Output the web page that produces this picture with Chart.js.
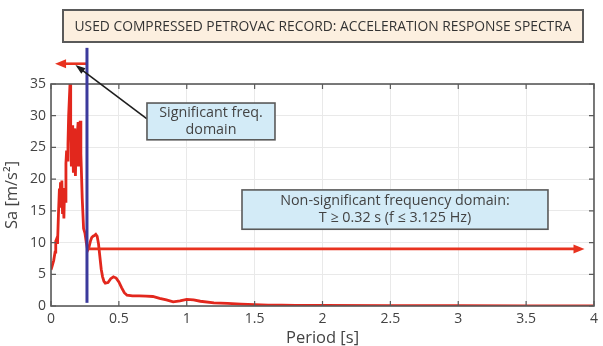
<!DOCTYPE html>
<html>
<head>
<meta charset="utf-8">
<script src="https://cdn.jsdelivr.net/npm/chart.js@4/dist/chart.umd.min.js"></script>
<style>
  html, body { margin: 0; padding: 0; background: #ffffff; }
  #wrap { width: 603px; height: 346px; }
</style>
</head>
<body>
<div id="wrap"><canvas id="spectra" width="603" height="346"></canvas></div>
<script>
// Acceleration response spectrum of the compressed Petrovac record
const periods = [
  0, 0.01, 0.02, 0.03, 0.035, 0.042, 0.048, 0.055, 0.062, 0.066,
  0.07, 0.075, 0.08, 0.085, 0.09, 0.095, 0.1, 0.105, 0.11, 0.115,
  0.12, 0.125, 0.13, 0.135, 0.14, 0.145, 0.15, 0.155, 0.16, 0.165,
  0.17, 0.175, 0.18, 0.185, 0.19, 0.195, 0.2, 0.205, 0.21, 0.215,
  0.22, 0.23, 0.24, 0.25, 0.26, 0.27, 0.28, 0.29, 0.3, 0.31,
  0.32, 0.33, 0.34, 0.35, 0.36, 0.37, 0.38, 0.39, 0.4, 0.42,
  0.44, 0.46, 0.48, 0.5, 0.52, 0.54, 0.56, 0.6, 0.65, 0.7,
  0.75, 0.8, 0.85, 0.9, 0.95, 1.0, 1.05, 1.1, 1.2, 1.3,
  1.4, 1.5, 1.6, 1.7, 1.8, 2.0, 2.5, 3.0, 3.5, 4.0
];
const spectralAcc = [
  5.7, 6.4, 7.2, 8.5, 10.2, 10.6, 9.8, 14.5, 18.5, 15.5,
  19.5, 16.8, 19.8, 14.5, 17.8, 13.8, 18.6, 16.5, 22.5, 24.5,
  23.0, 25.5, 30.0, 32.5, 35.0, 28.0, 22.0, 28.5, 25.0, 21.0,
  28.0, 23.0, 20.5, 25.5, 22.0, 27.5, 29.0, 25.0, 22.0, 29.2,
  24.0, 17.0, 12.2, 11.5, 10.0, 8.8, 9.3, 10.2, 10.8, 11.0,
  11.1, 11.3, 11.0, 9.8, 7.8, 5.8, 4.6, 3.9, 3.6, 3.7,
  4.3, 4.6, 4.4, 3.8, 2.9, 2.1, 1.7, 1.6, 1.6, 1.55,
  1.5, 1.2, 0.95, 0.65, 0.8, 1.05, 0.95, 0.75, 0.5, 0.4,
  0.3, 0.22, 0.15, 0.12, 0.1, 0.08, 0.05, 0.04, 0.03, 0.03
];
const xTickValues = [0, 0.5, 1, 1.5, 2, 2.5, 3, 3.5, 4];
const yTickValues = [0, 5, 10, 15, 20, 25, 30, 35];

const titleText = "USED COMPRESSED PETROVAC RECORD: ACCELERATION RESPONSE SPECTRA";
const cutoffPeriod = 0.265;
const significantNote = ["Significant freq.", "domain"];
const nonSignificantNote = ["Non-significant frequency domain:", "T \u2265 0.32 s (f \u2264 3.125 Hz)"];

const FONT = "'Open Sans', 'Noto Sans', sans-serif";
const TEXT = "#434343";
const FRAME = "#5a5a5a";

function arrowHead(ctx, x1, y1, x2, y2, len, half, color) {
  const a = Math.atan2(y2 - y1, x2 - x1);
  ctx.save();
  ctx.fillStyle = color;
  ctx.beginPath();
  ctx.moveTo(x2, y2);
  ctx.lineTo(x2 - len * Math.cos(a) + half * Math.sin(a), y2 - len * Math.sin(a) - half * Math.cos(a));
  ctx.lineTo(x2 - len * Math.cos(a) - half * Math.sin(a), y2 - len * Math.sin(a) + half * Math.cos(a));
  ctx.closePath();
  ctx.fill();
  ctx.restore();
}

function arrow(ctx, x1, y1, x2, y2, color, width, len, half) {
  const a = Math.atan2(y2 - y1, x2 - x1);
  ctx.save();
  ctx.strokeStyle = color;
  ctx.lineWidth = width;
  ctx.beginPath();
  ctx.moveTo(x1, y1);
  ctx.lineTo(x2 - len * 0.8 * Math.cos(a), y2 - len * 0.8 * Math.sin(a));
  ctx.stroke();
  ctx.restore();
  arrowHead(ctx, x1, y1, x2, y2, len, half, color);
}

function noteBox(ctx, x1, y1, x2, y2, lines, fill, size) {
  ctx.save();
  ctx.fillStyle = fill;
  ctx.fillRect(x1, y1, x2 - x1, y2 - y1);
  ctx.strokeStyle = FRAME;
  ctx.lineWidth = 1.6;
  ctx.strokeRect(x1, y1, x2 - x1, y2 - y1);
  ctx.fillStyle = TEXT;
  ctx.font = size + "px " + FONT;
  ctx.textAlign = "center";
  ctx.textBaseline = "middle";
  const cx = (x1 + x2) / 2, cy = (y1 + y2) / 2;
  const lh = size * 1.2;
  lines.forEach((t, i) => {
    ctx.fillText(t, cx, cy + (i - (lines.length - 1) / 2) * lh);
  });
  ctx.restore();
}

const overlay = {
  id: "overlay",
  afterDatasetsDraw(chart) {
    const ctx = chart.ctx;
    const xs = chart.scales.x, ys = chart.scales.y;
    const area = chart.chartArea;
    const px = v => xs.getPixelForValue(v);
    const py = v => ys.getPixelForValue(v);

    // frame with inward ticks on all four sides
    ctx.save();
    ctx.strokeStyle = FRAME;
    ctx.lineWidth = 1.6;
    ctx.strokeRect(area.left, area.top, area.right - area.left, area.bottom - area.top);
    ctx.lineWidth = 1.2;
    ctx.beginPath();
    xTickValues.forEach(v => {
      const x = px(v);
      ctx.moveTo(x, area.bottom); ctx.lineTo(x, area.bottom - 5);
      ctx.moveTo(x, area.top); ctx.lineTo(x, area.top + 5);
    });
    yTickValues.forEach(v => {
      const y = py(v);
      ctx.moveTo(area.left, y); ctx.lineTo(area.left + 5, y);
      ctx.moveTo(area.right, y); ctx.lineTo(area.right - 5, y);
    });
    ctx.stroke();
    ctx.restore();

    // horizontal arrow over the non-significant range
    arrow(ctx, px(0.27), py(9.0), px(3.93), py(9.0), "#e8321f", 2.6, 11, 4.5);

    // arrow pointing toward the significant range
    arrow(ctx, px(cutoffPeriod), py(38.2), px(0.03), py(38.2), "#e8321f", 2.6, 11, 4.5);

    // cutoff period marker
    ctx.save();
    ctx.strokeStyle = "#3b3a9c";
    ctx.lineWidth = 3;
    ctx.beginPath();
    ctx.moveTo(px(cutoffPeriod), py(40.7));
    ctx.lineTo(px(cutoffPeriod), py(0.5));
    ctx.stroke();
    ctx.restore();

    // leader from the note to the arrow
    arrow(ctx, px(0.707), py(29.5), px(0.18), py(38.0), "#1e1e1e", 1.6, 10, 3.5);

    noteBox(ctx, px(0.707), py(32.0), px(1.65), py(26.2), significantNote, "#d3ebf7", 14.3);
    noteBox(ctx, px(1.407), py(18.3), px(3.661), py(12.1), nonSignificantNote, "#d3ebf7", 14.3);

    // heading box
    ctx.save();
    ctx.fillStyle = "#fcefdf";
    ctx.fillRect(63, 10, 520, 32);
    ctx.strokeStyle = FRAME;
    ctx.lineWidth = 2;
    ctx.strokeRect(63, 10, 520, 32);
    ctx.fillStyle = "#333333";
    const size = 15;
    ctx.font = size + "px " + FONT;
    const w = ctx.measureText(titleText).width;
    ctx.textAlign = "center";
    ctx.textBaseline = "middle";
    ctx.save();
    ctx.translate(323, 26.5);
    ctx.scale(497 / w, 1);
    ctx.fillText(titleText, 0, 0);
    ctx.restore();
    ctx.restore();
  }
};

new Chart(document.getElementById("spectra"), {
  type: "line",
  data: {
    datasets: [{
      data: periods.map((t, i) => ({ x: t, y: spectralAcc[i] })),
      borderColor: "#e2271d",
      borderWidth: 2.8,
      pointRadius: 0,
      tension: 0,
      fill: false
    }]
  },
  options: {
    responsive: false,
    animation: false,
    devicePixelRatio: 1,
    layout: { padding: { top: 84, right: 9, left: 0, bottom: 0 } },
    plugins: { legend: { display: false }, tooltip: { enabled: false } },
    scales: {
      x: {
        type: "linear",
        min: 0, max: 4,
        afterBuildTicks(scale) { scale.ticks = xTickValues.map(v => ({ value: v })); },
        afterFit(scale) { scale.height = 40; },
        grid: { color: "#e9e9e9", lineWidth: 1, drawTicks: false },
        border: { display: false },
        ticks: { padding: 5, color: TEXT, font: { family: FONT, size: 14 }, maxRotation: 0, callback: v => String(v) },
        title: { display: true, text: "Period [s]", color: TEXT, font: { family: FONT, size: 16.5 }, padding: { top: 0, bottom: -2 } }
      },
      y: {
        min: 0, max: 35,
        afterBuildTicks(scale) { scale.ticks = yTickValues.map(v => ({ value: v })); },
        afterFit(scale) { scale.width = 51; },
        grid: { color: "#e9e9e9", lineWidth: 1, drawTicks: false },
        border: { display: false },
        ticks: { padding: 5, color: TEXT, font: { family: FONT, size: 14 }, callback: v => String(v) },
        title: { display: true, text: "Sa [m/s\u00b2]", color: TEXT, font: { family: FONT, size: 16.5 }, padding: { top: 2, bottom: 0 } }
      }
    }
  },
  plugins: [overlay]
});
</script>
</body>
</html>
